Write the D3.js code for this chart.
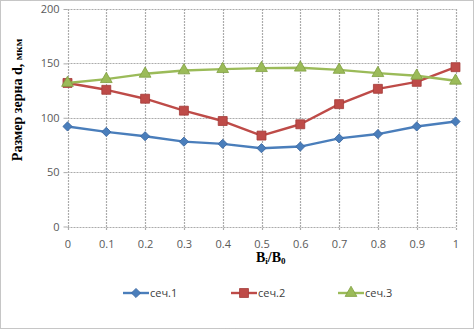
<!DOCTYPE html>
<html>
<head>
<meta charset="utf-8">
<script src="https://cdn.jsdelivr.net/npm/d3@7"></script>
<style>
  html, body { margin: 0; padding: 0; background: #fff; }
  svg { display: block; }
</style>
</head>
<body>
<svg id="chart" width="474" height="329"></svg>
<script>
// Grain size across the relative width, three sections
const ratios = [0, 0.1, 0.2, 0.3, 0.4, 0.5, 0.6, 0.7, 0.8, 0.9, 1];
const sec1 = [92, 87, 83, 78, 76, 72, 73.5, 81, 85, 92, 96.5];
const sec2 = [132, 125.7, 117.5, 106.5, 97, 83.6, 94, 112.5, 126.6, 133, 146.5];
const sec3 = [132, 135.5, 140.4, 143.5, 144.7, 145.6, 146, 144, 141, 138.6, 134];
const seriesNames = ["сеч.1", "сеч.2", "сеч.3"];
const xTicks = [0, 0.1, 0.2, 0.3, 0.4, 0.5, 0.6, 0.7, 0.8, 0.9, 1];
const yTicks = [0, 50, 100, 150, 200];

const series = [
  { name: seriesNames[0], values: sec1, color: "#4a7ebb", edge: "#3a67a0", shape: d3.symbolSquare, size: 42, rot: 45 },
  { name: seriesNames[1], values: sec2, color: "#be4b48", edge: "#a33b38", shape: d3.symbolSquare, size: 80, rot: 0 },
  { name: seriesNames[2], values: sec3, color: "#9bbb59", edge: "#7fa040", shape: d3.symbolTriangle, size: 60, rot: 0 }
];

const svg = d3.select("#chart");
const W = 474, H = 329;
const plot = { left: 67.5, right: 455.5, top: 9, bottom: 226.5 };

const x = d3.scaleLinear().domain([0, 1]).range([plot.left, plot.right]);
const y = d3.scaleLinear().domain([0, 200]).range([plot.bottom, plot.top]);

// outer frame
svg.append("rect")
  .attr("x", 0.5).attr("y", 0.5).attr("width", W - 1).attr("height", H - 1)
  .attr("fill", "#fff").attr("stroke", "#8c8c8c").attr("stroke-dasharray", "1,1");

const gridColor = "#ababab";

// horizontal grid
svg.append("g").selectAll("line").data(yTicks).join("line")
  .attr("x1", plot.left).attr("x2", plot.right)
  .attr("y1", d => Math.round(y(d)) + 0.5).attr("y2", d => Math.round(y(d)) + 0.5)
  .attr("stroke", gridColor).attr("stroke-width", 1.2).attr("stroke-dasharray", "2,1");

// vertical grid
svg.append("g").selectAll("line").data(xTicks).join("line")
  .attr("x1", d => Math.round(x(d)) + 0.5).attr("x2", d => Math.round(x(d)) + 0.5)
  .attr("y1", plot.top).attr("y2", plot.bottom + 4)
  .attr("stroke", gridColor).attr("stroke-width", 1.2).attr("stroke-dasharray", "2,1");

// y axis
const yAxis = d3.axisLeft(y).tickValues(yTicks).tickSize(4).tickPadding(4);
const gy = svg.append("g").attr("transform", `translate(${plot.left},0)`).call(yAxis);
gy.select(".domain").remove();
gy.selectAll(".tick line").attr("stroke", gridColor);
gy.selectAll("text")
  .attr("font-family", "'Open Sans', 'Liberation Sans', sans-serif")
  .attr("font-size", 11).attr("fill", "#595959");

// x axis
const xAxis = d3.axisBottom(x).tickValues(xTicks).tickSize(0).tickPadding(14)
  .tickFormat(d => d3.format("")(d));
const gx = svg.append("g").attr("transform", `translate(0,${plot.bottom})`).call(xAxis);
gx.select(".domain").remove();
gx.selectAll("text")
  .attr("font-family", "'Open Sans', 'Liberation Sans', sans-serif")
  .attr("font-size", 11).attr("fill", "#595959");

// axis titles
const yTitle = svg.append("text")
  .attr("transform", "translate(22,100) rotate(-90)")
  .attr("text-anchor", "middle")
  .attr("font-family", "'Liberation Serif', 'Times New Roman', serif")
  .attr("font-weight", "bold").attr("font-size", 14).attr("fill", "#000");
yTitle.append("tspan").text("Размер зерна d, ");
yTitle.append("tspan").attr("font-size", 11).text("мкм");

const xTitle = svg.append("text")
  .attr("x", 256).attr("y", 262)
  .attr("font-family", "'Liberation Serif', 'Times New Roman', serif")
  .attr("font-weight", "bold").attr("font-size", 14).attr("fill", "#000");
xTitle.append("tspan").text("B");
xTitle.append("tspan").attr("font-size", 9).attr("dy", 2).text("i");
xTitle.append("tspan").attr("dy", -2).text("/B");
xTitle.append("tspan").attr("font-size", 9).attr("dy", 2).text("0");

// series lines and markers
const line = d3.line().x((d, i) => x(ratios[i])).y(d => y(d));
series.forEach(s => {
  svg.append("path").datum(s.values)
    .attr("d", line).attr("fill", "none")
    .attr("stroke", s.color).attr("stroke-width", 2.4).attr("stroke-linejoin", "round");
  svg.append("g").selectAll("path").data(s.values).join("path")
    .attr("transform", (d, i) => `translate(${x(ratios[i])},${y(d)}) rotate(${s.rot})`)
    .attr("d", d3.symbol().type(s.shape).size(s.size))
    .attr("fill", s.color).attr("stroke", s.edge).attr("stroke-width", 0.8);
});

// legend
const legendX = [123, 231, 338];
const legendY = 293;
series.forEach((s, k) => {
  const g = svg.append("g").attr("transform", `translate(${legendX[k]},${legendY})`);
  g.append("line").attr("x1", 0).attr("x2", 26).attr("y1", 0).attr("y2", 0)
    .attr("stroke", s.color).attr("stroke-width", 2.4);
  g.append("path").attr("transform", `translate(13,0) rotate(${s.rot})`)
    .attr("d", d3.symbol().type(s.shape).size(s.size))
    .attr("fill", s.color).attr("stroke", s.edge).attr("stroke-width", 0.8);
  g.append("text").attr("x", 27).attr("y", 4)
    .attr("font-family", "'Open Sans', 'Liberation Sans', sans-serif")
    .attr("font-size", 11).attr("fill", "#404040").text(s.name);
});
</script>
</body>
</html>
